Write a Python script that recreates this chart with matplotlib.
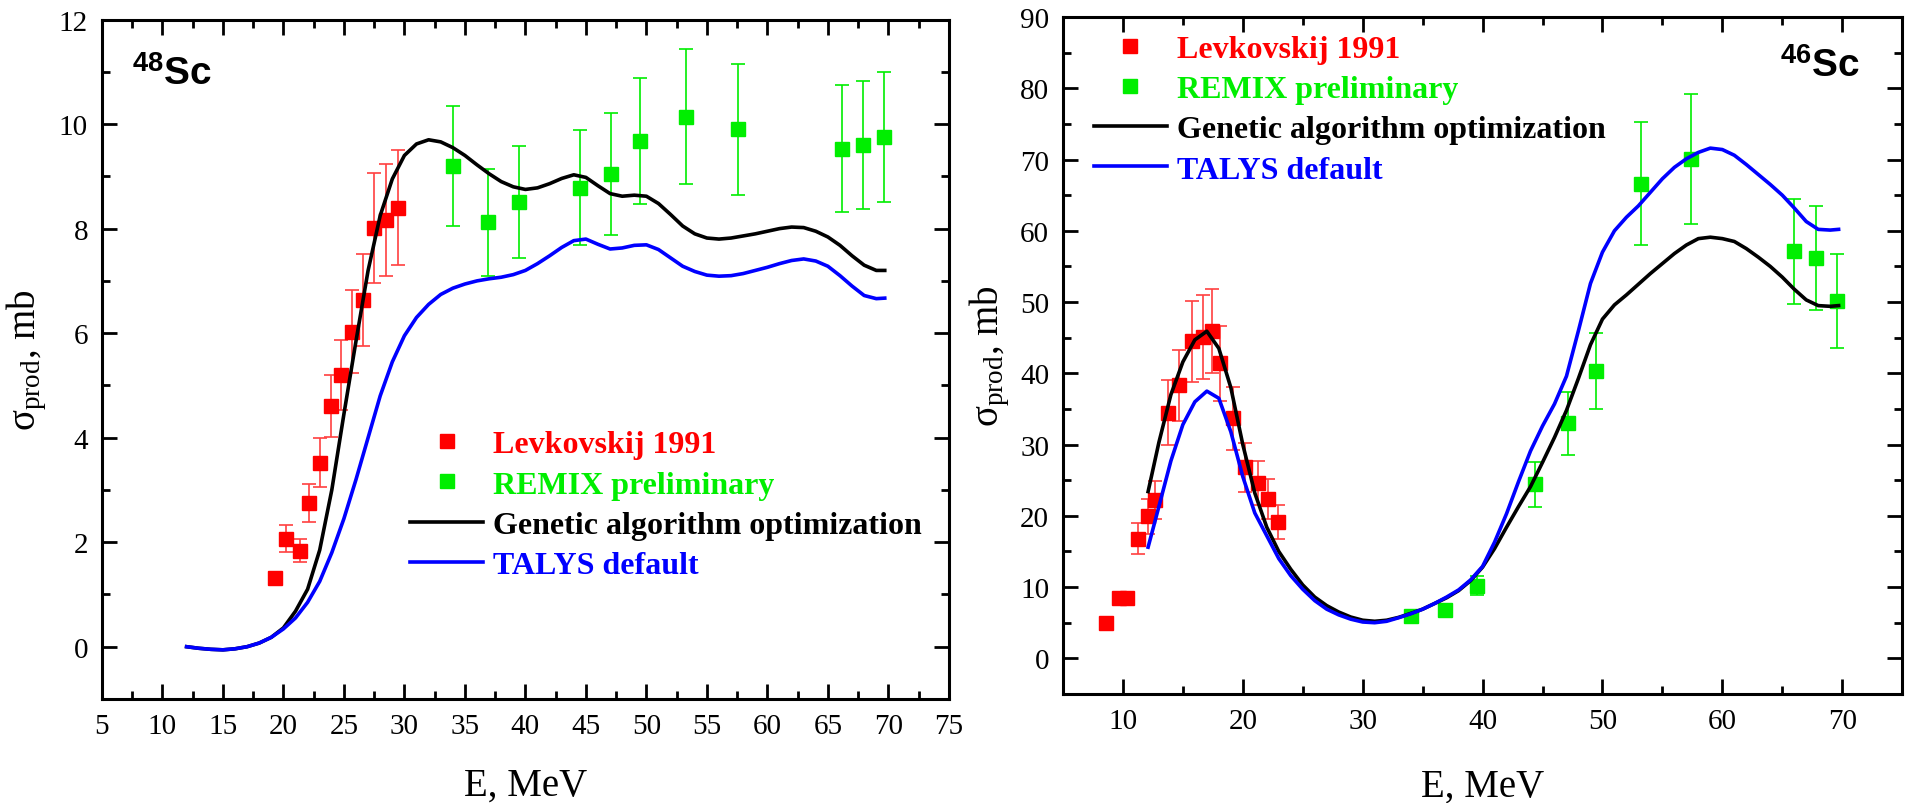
import matplotlib
matplotlib.use("Agg")
import matplotlib.pyplot as plt
from matplotlib.ticker import MultipleLocator
from matplotlib.lines import Line2D
import numpy as np

plt.rcParams['font.family'] = ['Liberation Serif', 'DejaVu Serif']
plt.rcParams['mathtext.fontset'] = 'custom'
plt.rcParams['mathtext.rm'] = 'Liberation Serif'
plt.rcParams['mathtext.it'] = 'Liberation Serif:italic'
plt.rcParams['mathtext.bf'] = 'Liberation Sans:bold'
plt.rcParams['mathtext.default'] = 'rm'

RED = '#ff0000'
RED_ERR = '#ff4040'
GREEN = '#00ee00'
BLUE = '#0000ff'

# ---- 48Sc data ----
E_lev48 = [19.3, 20.25, 21.35, 22.15, 23.05, 23.95, 24.8, 25.65, 26.55, 27.5, 28.45, 29.45]
s_lev48 = [1.31, 2.07, 1.84, 2.75, 3.52, 4.60, 5.20, 6.03, 6.64, 8.01, 8.16, 8.40]
e_lev48 = [0.12, 0.26, 0.22, 0.36, 0.47, 0.59, 0.67, 0.80, 0.88, 1.06, 1.07, 1.10]

E_rem48 = [34.0, 36.9, 39.5, 44.5, 47.1, 49.5, 53.3, 57.6, 66.2, 67.9, 69.6]
s_rem48 = [9.20, 8.12, 8.51, 8.78, 9.05, 9.68, 10.14, 9.90, 9.53, 9.60, 9.75]
e_rem48 = [1.15, 1.03, 1.08, 1.10, 1.17, 1.21, 1.29, 1.25, 1.21, 1.22, 1.24]

E_th48 = [12, 13, 14, 15, 16, 17, 18, 19, 20, 21, 22, 23, 24, 25, 26, 27, 28, 29, 30,
          31, 32, 33, 34, 35, 36, 37, 38, 39, 40, 41, 42, 43, 44, 45, 46, 47, 48, 49, 50,
          51, 52, 53, 54, 55, 56, 57, 58, 59, 60, 61, 62, 63, 64, 65, 66, 67, 68, 69, 69.7]
ga48 = [0.0, -0.03, -0.05, -0.06, -0.04, 0.0, 0.07, 0.18, 0.36, 0.68, 1.1, 1.85, 3.0, 4.45,
        5.85, 7.2, 8.25, 8.95, 9.4, 9.62, 9.7, 9.66, 9.55, 9.4, 9.22, 9.05, 8.9, 8.8, 8.75,
        8.78, 8.86, 8.96, 9.03, 8.98, 8.82, 8.67, 8.62, 8.64, 8.62, 8.48, 8.27, 8.05, 7.9,
        7.82, 7.8, 7.82, 7.86, 7.9, 7.95, 8.0, 8.03, 8.02, 7.95, 7.84, 7.68, 7.48, 7.3, 7.2, 7.2]
talys48 = [0.0, -0.03, -0.05, -0.06, -0.04, 0.0, 0.07, 0.18, 0.34, 0.55, 0.85, 1.25, 1.8,
           2.45, 3.2, 4.0, 4.8, 5.45, 5.95, 6.3, 6.55, 6.74, 6.86, 6.94, 7.0, 7.04, 7.07,
           7.12, 7.2, 7.33, 7.48, 7.64, 7.77, 7.8, 7.7, 7.61, 7.63, 7.68, 7.69, 7.6, 7.44,
           7.28, 7.18, 7.11, 7.09, 7.1, 7.14, 7.2, 7.26, 7.33, 7.39, 7.42, 7.38, 7.28, 7.1,
           6.9, 6.72, 6.66, 6.67]

# ---- 46Sc data ----
E_lev46 = [8.6, 9.65, 10.35, 11.27, 12.07, 12.64, 13.72, 14.71, 15.73, 16.67, 17.44, 18.13,
           19.17, 20.19, 21.3, 22.07, 22.95]
s_lev46 = [4.9, 8.5, 8.5, 16.8, 19.95, 22.2, 34.5, 38.3, 44.5, 45.1, 46.0, 41.4, 33.7, 26.8,
           24.55, 22.3, 19.15]
e_lev46 = [0.0, 0.0, 0.0, 2.2, 2.45, 2.7, 4.5, 5.0, 5.7, 5.9, 5.9, 5.3, 4.4, 3.4, 3.1, 2.8, 2.4]

E_rem46 = [34.0, 36.85, 39.5, 44.4, 47.1, 49.45, 53.2, 57.4, 66.0, 67.8, 69.6]
s_rem46 = [6.0, 6.8, 10.2, 24.4, 33.0, 40.3, 66.6, 70.1, 57.1, 56.2, 50.1]
e_rem46 = [0.6, 0.7, 1.3, 3.2, 4.4, 5.3, 8.6, 9.1, 7.4, 7.3, 6.6]

E_th46 = [12.1, 13, 14, 15, 16, 17, 18, 19, 20, 21, 22, 23, 24, 25, 26, 27, 28, 29, 30,
          31, 32, 33, 34, 35, 36, 37, 38, 39, 40, 41, 42, 43, 44, 45, 46, 47, 48, 49, 50,
          51, 52, 53, 54, 55, 56, 57, 58, 59, 60, 61, 62, 63, 64, 65, 66, 67, 68, 69, 69.7]
ga46 = [23.4, 30.3, 37.0, 41.6, 44.7, 45.9, 43.5, 38.0, 30.0, 23.2, 18.4, 15.0, 12.5, 10.3,
        8.6, 7.4, 6.5, 5.8, 5.35, 5.2, 5.35, 5.75, 6.3, 6.9, 7.7, 8.5, 9.5, 10.9, 12.8, 15.4,
        18.4, 21.3, 24.1, 27.5, 31.0, 34.8, 39.3, 44.0, 47.6, 49.6, 51.0, 52.5, 54.0, 55.4,
        56.8, 58.0, 58.9, 59.1, 58.9, 58.5, 57.5, 56.3, 55.0, 53.5, 51.8, 50.3, 49.5, 49.4, 49.5]
talys46 = [15.6, 21.3, 27.7, 32.8, 36.0, 37.5, 36.5, 31.8, 25.5, 20.4, 17.2, 14.0, 11.6, 9.7,
           8.1, 6.9, 6.1, 5.5, 5.1, 5.0, 5.2, 5.7, 6.25, 6.9, 7.7, 8.6, 9.6, 11.0, 12.9, 16.3,
           20.3, 24.8, 29.1, 32.6, 35.7, 39.6, 46.0, 52.6, 57.0, 60.0, 61.9, 63.5, 65.4, 67.3,
           68.9, 70.1, 71.0, 71.6, 71.4, 70.6, 69.3, 67.9, 66.5, 65.0, 63.2, 61.3, 60.2, 60.1, 60.2]

legend_labels = ['Levkovskij 1991', 'REMIX preliminary',
                 'Genetic algorithm optimization', 'TALYS default']

fig = plt.figure(figsize=(19.05, 8.04), dpi=100)
ax1 = fig.add_axes([0.0535, 0.1294, 0.4446, 0.845])
ax2 = fig.add_axes([0.558, 0.1356, 0.4405, 0.842])


def draw_panel(ax, E_lev, s_lev, e_lev, E_rem, s_rem, e_rem, E_th, ga, talys):
    ax.errorbar(E_lev, s_lev, yerr=e_lev, fmt='s', color=RED, ecolor=RED_ERR,
                elinewidth=1.2, capsize=5, capthick=1.2, markersize=10.5, zorder=3)
    ax.errorbar(E_rem, s_rem, yerr=e_rem, xerr=0.35, fmt='s', color=GREEN, ecolor=GREEN,
                elinewidth=1.2, capsize=5, capthick=1.2, markersize=10.5, zorder=3)
    ax.plot(E_th, ga, color='black', lw=2.6, zorder=4)
    ax.plot(E_th, talys, color=BLUE, lw=2.6, zorder=4)
    for s in ax.spines.values():
        s.set_linewidth(2.2)
    ax.tick_params(which='both', direction='in', top=True, right=True, width=2.0,
                   labelsize=21, pad=10)
    ax.tick_params(which='major', length=11)
    ax.tick_params(which='minor', length=6)
    ax.set_xlabel('E, MeV', fontsize=28)
    ax.set_ylabel(r'$\sigma_{\rm prod}$, mb', fontsize=28)


def add_legend(ax, anchor):
    handles = [
        Line2D([], [], marker='s', ls='none', color=RED, markersize=10),
        Line2D([], [], marker='s', ls='none', color=GREEN, markersize=10),
        Line2D([], [], color='black', lw=2.6),
        Line2D([], [], color=BLUE, lw=2.6),
    ]
    ax.legend(handles, legend_labels, loc='upper left', bbox_to_anchor=anchor,
              frameon=False, borderpad=0, borderaxespad=0, handlelength=2.3,
              handletextpad=0.3, labelspacing=0.34,
              prop={'weight': 'bold', 'size': 23, 'family': 'Liberation Serif'},
              labelcolor=[RED, GREEN, 'black', BLUE])


draw_panel(ax1, E_lev48, s_lev48, e_lev48, E_rem48, s_rem48, e_rem48, E_th48, ga48, talys48)
ax1.set_xlim(5, 75)
ax1.set_ylim(-1, 12)
ax1.xaxis.set_major_locator(MultipleLocator(5))
ax1.xaxis.set_minor_locator(MultipleLocator(2.5))
ax1.yaxis.set_major_locator(MultipleLocator(2))
ax1.yaxis.set_minor_locator(MultipleLocator(1))
ax1.xaxis.set_label_coords(0.5, -0.1)
ax1.yaxis.set_label_coords(-0.063, 0.5)
ax1.text(0.035, 0.905, r'${}^{\mathbf{48}}\mathbf{Sc}$', transform=ax1.transAxes,
         fontsize=28, va='baseline', ha='left')
add_legend(ax1, (0.3636, 0.396))

draw_panel(ax2, E_lev46, s_lev46, e_lev46, E_rem46, s_rem46, e_rem46, E_th46, ga46, talys46)
ax2.set_xlim(5, 75)
ax2.set_ylim(-5, 90)
ax2.xaxis.set_major_locator(MultipleLocator(10))
ax2.xaxis.set_minor_locator(MultipleLocator(5))
ax2.yaxis.set_major_locator(MultipleLocator(10))
ax2.yaxis.set_minor_locator(MultipleLocator(5))
ax2.xaxis.set_label_coords(0.5, -0.109)
ax2.yaxis.set_label_coords(-0.061, 0.5)
ax2.text(0.854, 0.913, r'${}^{\mathbf{46}}\mathbf{Sc}$', transform=ax2.transAxes,
         fontsize=28, va='baseline', ha='left')
add_legend(ax2, (0.0365, 0.974))

fig.savefig('out.png', dpi=100)
